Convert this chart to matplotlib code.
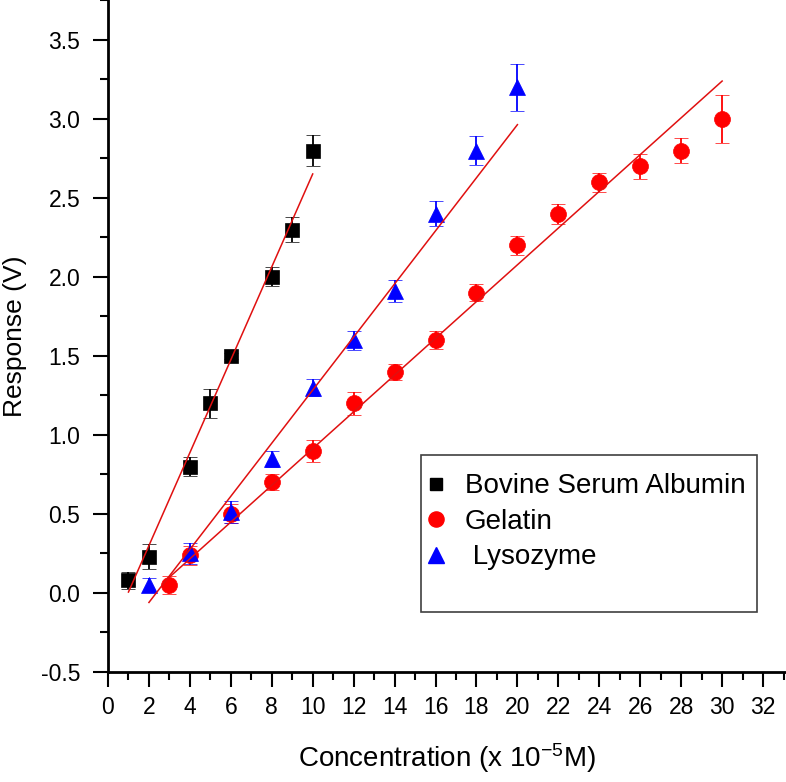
import numpy as np
import matplotlib
matplotlib.use("Agg")
import matplotlib.pyplot as plt
from matplotlib.lines import Line2D
from matplotlib.patches import Rectangle
from matplotlib.ticker import MultipleLocator, FormatStrFormatter

plt.rcParams['font.family'] = ['Liberation Sans', 'DejaVu Sans']
plt.rcParams['mathtext.fontset'] = 'custom'
plt.rcParams['mathtext.rm'] = 'Liberation Sans'
plt.rcParams['mathtext.it'] = 'Liberation Sans'
plt.rcParams['axes.unicode_minus'] = False

# Bovine Serum Albumin
bsa_x = [1, 2, 4, 5, 6, 8, 9, 10]
bsa_y = [0.08, 0.23, 0.80, 1.20, 1.50, 2.00, 2.30, 2.80]
bsa_err = [0.055, 0.08, 0.06, 0.09, 0.02, 0.06, 0.08, 0.10]

# Gelatin
gel_x = [3, 4, 6, 8, 10, 12, 14, 16, 18, 20, 22, 24, 26, 28, 30]
gel_y = [0.05, 0.24, 0.50, 0.70, 0.90, 1.20, 1.40, 1.60, 1.90, 2.20,
         2.40, 2.60, 2.70, 2.80, 3.00]
gel_err = [0.055, 0.06, 0.06, 0.05, 0.07, 0.075, 0.05, 0.055, 0.055, 0.06,
           0.065, 0.06, 0.08, 0.08, 0.15]

# Lysozyme
lys_x = [2, 4, 6, 8, 10, 12, 14, 16, 18, 20]
lys_y = [0.05, 0.25, 0.51, 0.85, 1.30, 1.60, 1.91, 2.40, 2.80, 3.20]
lys_err = [0.045, 0.065, 0.07, 0.05, 0.055, 0.06, 0.07, 0.08, 0.09, 0.15]

# linear fits (slope, intercept)
bsa_fit = (0.294, -0.288)
gel_fit = (0.1163, -0.249)
lys_fit = (0.168, -0.396)

fig = plt.figure(figsize=(7.86, 7.82), dpi=100)
ax = fig.add_axes([0.1374, 0.1407, 0.8626, 0.8593])

series = [
    ("Bovine Serum Albumin", bsa_x, bsa_y, bsa_err, bsa_fit, 'black', 's', 9.5),
    ("Gelatin", gel_x, gel_y, gel_err, gel_fit, 'red', 'o', 11.5),
    (" Lysozyme", lys_x, lys_y, lys_err, lys_fit, 'blue', '^', 12),
]

handles = []
for label, x, y, err, fit, color, marker, ms in series:
    ax.errorbar(x, y, yerr=err, fmt=marker, color=color, ms=ms, mec=color,
                mew=0.5, elinewidth=1.3, capsize=5, capthick=1.3, zorder=3)
    xf = np.array([min(x), max(x)])
    ax.plot(xf, fit[0] * xf + fit[1], color='#e01010', lw=1.1, zorder=4)
    handles.append(Line2D([], [], ls='none', marker=marker, color=color,
                          ms=ms * 0.95, mec=color, label=label))

ax.set_xlim(0, 33.12)
ax.set_ylim(-0.5, 3.753)
ax.xaxis.set_major_locator(MultipleLocator(2))
ax.xaxis.set_minor_locator(MultipleLocator(1))
ax.yaxis.set_major_locator(MultipleLocator(0.5))
ax.yaxis.set_minor_locator(MultipleLocator(0.25))
ax.yaxis.set_major_formatter(FormatStrFormatter('%.1f'))

for s in ['top', 'right']:
    ax.spines[s].set_visible(False)
for s in ['left', 'bottom']:
    ax.spines[s].set_linewidth(2)

ax.tick_params(which='major', direction='out', length=11, width=1.5,
               labelsize=16.5)
ax.tick_params(which='minor', direction='out', length=6, width=1.5)
ax.tick_params(axis='y', which='major', pad=9)
ax.tick_params(axis='x', which='major', pad=6)

ax.set_xlabel("Concentration (x 10$^{-5}$M)", fontsize=20, labelpad=16)
ax.set_ylabel("Response (V)", fontsize=19, labelpad=10)

ax.add_patch(Rectangle((0.4617, 0.0893), 0.4953, 0.2336,
                       transform=ax.transAxes, fill=False,
                       edgecolor='#404040', lw=1.2, zorder=5))
ax.legend(handles=handles, loc='upper left', bbox_to_anchor=(0.451, 0.308),
          frameon=False, fontsize=20, handlelength=1.0, handletextpad=0.54,
          labelspacing=0.34, borderaxespad=0, borderpad=0.3)

fig.savefig("out.png", dpi=100)
